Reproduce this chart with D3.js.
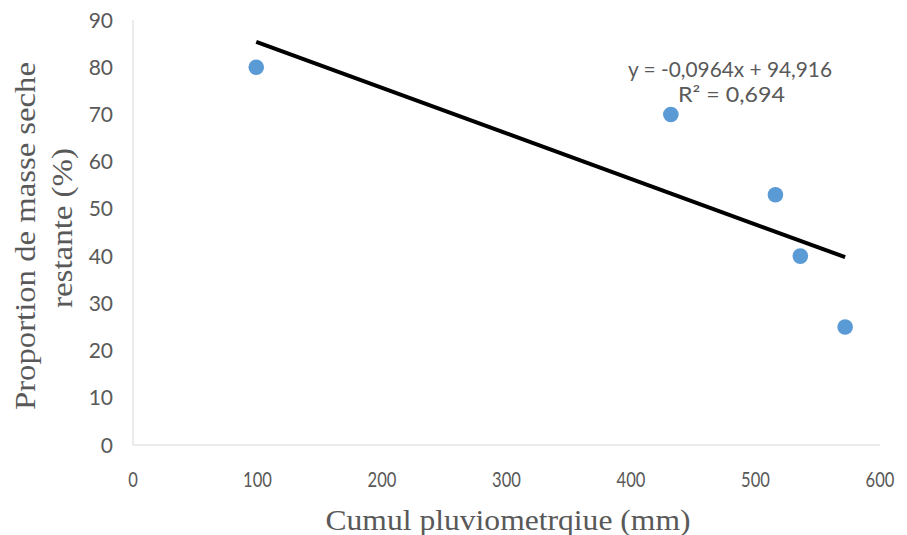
<!DOCTYPE html>
<html><head><meta charset="utf-8">
<script src="https://cdn.jsdelivr.net/npm/d3@7"></script>
<style>body{margin:0;background:#fff}svg{display:block}</style>
</head><body>
<svg id="c" width="907" height="535"></svg>
<script>
const xValues = [99, 432, 516, 536, 572];
const yValues = [80, 70, 53, 40, 25];
const xTicks = [0, 100, 200, 300, 400, 500, 600];
const yTicks = [0, 10, 20, 30, 40, 50, 60, 70, 80, 90];
const trendSlope = -0.0964, trendIntercept = 94.916;
const eqText = "y = -0,0964x + 94,916";
const r2Text = "R² = 0,694";
const xTitle = "Cumul pluviometrqiue (mm)";
const yTitleLines = ["Proportion de masse seche", "restante (%)"];

const svg = d3.select("#c");
const x = d3.scaleLinear().domain([0, 600]).range([133, 880]);
const y = d3.scaleLinear().domain([0, 90]).range([445, 20]);
const grey = "#595959";
const tickFont = "Lato, 'Open Sans', sans-serif";
const serif = "'Liberation Serif', 'Times New Roman', serif";

// axis lines
svg.append("line").attr("x1", x(0)).attr("x2", x(600)).attr("y1", y(0)).attr("y2", y(0)).attr("stroke", "#d9d9d9").attr("stroke-width", 1);
svg.append("line").attr("x1", x(0)).attr("x2", x(0)).attr("y1", y(0)).attr("y2", y(90)).attr("stroke", "#d9d9d9").attr("stroke-width", 1);

svg.append("g").selectAll("text").data(yTicks).join("text")
  .attr("x", x(0) - 20).attr("y", d => y(d)).attr("dy", "0.36em")
  .attr("text-anchor", "end").attr("fill", grey).attr("font-family", tickFont).attr("font-size", 21)
  .text(d => d);
svg.append("g").selectAll("text").data(xTicks).join("text")
  .attr("x", d => x(d)).attr("y", y(0) + 42)
  .attr("text-anchor", "middle").attr("fill", grey).attr("font-family", tickFont).attr("font-size", 21)
  .attr("textLength", d => String(d).length * 9.6).attr("lengthAdjust", "spacingAndGlyphs")
  .text(d => d);

// titles
svg.append("text").attr("x", 508).attr("y", 530).attr("text-anchor", "middle")
  .attr("fill", grey).attr("font-family", serif).attr("font-size", 30)
  .attr("textLength", 365).attr("lengthAdjust", "spacingAndGlyphs")
  .text(xTitle);
const yTitleGeom = [[35, 236, 348], [72, 228, 160]];
yTitleLines.forEach((t, i) => {
  const [cx, cy, len] = yTitleGeom[i];
  svg.append("text").attr("transform", `translate(${cx},${cy}) rotate(-90)`)
    .attr("text-anchor", "middle").attr("fill", grey)
    .attr("font-family", serif).attr("font-size", 30)
    .attr("textLength", len).attr("lengthAdjust", "spacingAndGlyphs")
    .text(t);
});

// trendline
const x0 = d3.min(xValues), x1 = d3.max(xValues);
svg.append("line")
  .attr("x1", x(x0)).attr("y1", y(trendSlope * x0 + trendIntercept))
  .attr("x2", x(x1)).attr("y2", y(trendSlope * x1 + trendIntercept))
  .attr("stroke", "#000").attr("stroke-width", 4).attr("stroke-linecap", "butt");

// points
svg.append("g").selectAll("circle").data(xValues.map((v, i) => [v, yValues[i]])).join("circle")
  .attr("cx", d => x(d[0])).attr("cy", d => y(d[1])).attr("r", 7.8).attr("fill", "#5B9BD5");

// equation
svg.append("text").attr("x", 730).attr("y", 77).attr("text-anchor", "middle")
  .attr("fill", grey).attr("font-family", tickFont).attr("font-size", 21)
  .attr("textLength", 204).attr("lengthAdjust", "spacingAndGlyphs").text(eqText);
svg.append("text").attr("x", 731.5).attr("y", 102).attr("text-anchor", "middle")
  .attr("fill", grey).attr("font-family", tickFont).attr("font-size", 21)
  .attr("textLength", 107).attr("lengthAdjust", "spacingAndGlyphs").text(r2Text);
</script>
</body></html>
